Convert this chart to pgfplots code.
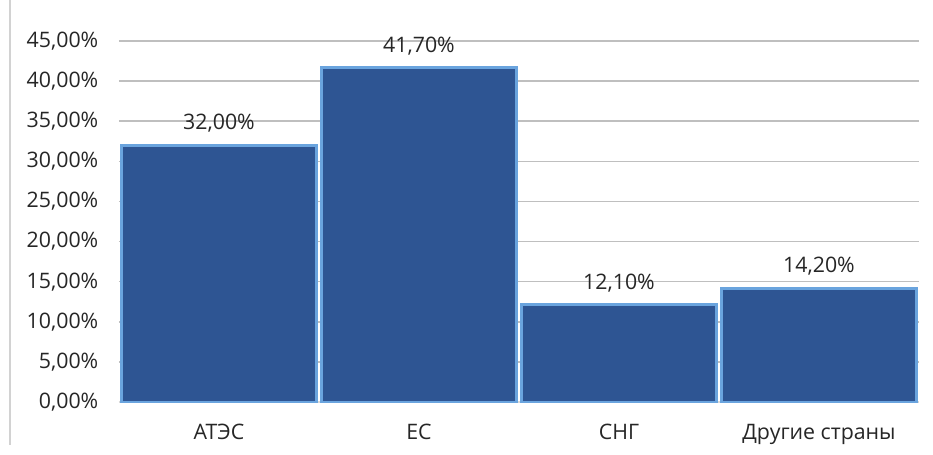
\documentclass[border=0pt]{standalone}
\usepackage{fontspec}
\setmainfont{Open Sans}
\usepackage{pgfplots}
\pgfplotsset{compat=1.18}
\definecolor{barfill}{HTML}{2E5593}
\definecolor{baredge}{HTML}{6AA4DE}
\definecolor{gridc}{HTML}{BFBFBF}
\definecolor{txt}{HTML}{262626}

\begin{document}
\begin{tikzpicture}
\path[use as bounding box] (-89.25pt,-39pt) rectangle (610.5pt,301.5pt);
\draw[gridc!70, line width=1pt] (-81.75pt,-32pt) -- (-81.75pt,301.5pt);
\begin{axis}[
    at={(0,0)}, anchor=south west,
    scale only axis,
    width=600pt, height=270.75pt,
    ybar, bar width=0.975,
    xmin=-0.5, xmax=3.5,
    ymin=0, ymax=45,
    ytick={0,5,...,45},
    xtick={0,1,2,3},
    xticklabels={АТЭС, ЕС, СНГ, Другие страны},
    axis x line=bottom, axis y line=left,
    x axis line style={draw=gridc!60, line width=1.2pt, -},
    y axis line style={draw=none},
    major tick length=0pt,
    ymajorgrids, grid style={gridc, line width=1.1pt},
    /pgf/number format/fixed,
    /pgf/number format/fixed zerofill,
    /pgf/number format/precision=2,
    /pgf/number format/use comma,
    /pgf/number format/assume math mode=true,
    yticklabel={\pgfmathprintnumber{\tick}\%},
    tick label style={font=\fontsize{16}{18}\selectfont, text=txt},
    every y tick label/.append style={xshift=-12pt},
    every x tick label/.append style={yshift=-13pt},
    nodes near coords={\pgfmathprintnumber{\pgfplotspointmeta}\%},
    every node near coord/.append style={font=\fontsize{16}{18}\selectfont, text=txt, yshift=5pt},
    clip=false,
]
\addplot[fill=barfill, draw=baredge, line width=2.2pt] coordinates {(0,32.0) (1,41.7) (2,12.1) (3,14.2)};
\end{axis}
\end{tikzpicture}
\end{document}
